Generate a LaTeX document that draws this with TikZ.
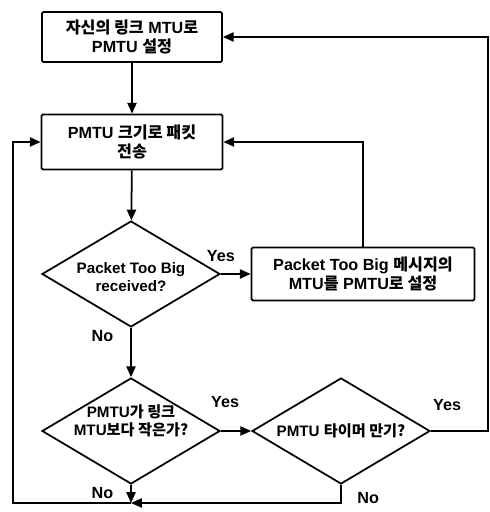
\documentclass[tikz,border=0pt]{standalone}
\usepackage{fontspec}
\setmainfont{Liberation Sans}
\newfontfamily\krfont{Noto Sans CJK KR}
\newcommand{\kor}[1]{{\krfont #1}}
\usepackage{tikz}
\usetikzlibrary{shapes.geometric,arrows.meta,positioning}

\begin{document}
\begin{tikzpicture}[
  line width=1.25pt,
  box/.style={draw,rounded corners=1pt,minimum width=4.5cm,align=center,
              font=\fontsize{11.5}{14}\selectfont\bfseries},
  dec/.style={draw,diamond,minimum width=4.45cm,minimum height=2.65cm,inner sep=0pt},
  dtxt/.style={align=center,font=\fontsize{10.8}{13}\selectfont\bfseries},
  lbl/.style={font=\fontsize{11.5}{13}\selectfont\bfseries,inner sep=1pt},
  arr/.style={-{Triangle[length=2.7mm,width=2.3mm]}},
]
\useasboundingbox (0,0) rectangle (12.225,12.8);
\node[box,minimum height=1.25cm] (own) at (3.3,11.875) {\kor{자신의 링크} MTU\kor{로}\\PMTU \kor{설정}};
\node[box,minimum width=4.525cm,minimum height=1.375cm] (send) at (3.3,9.25) {PMTU \kor{크기로 패킷}\\\kor{전송}};
\node[dec,label={[dtxt,yshift=-2pt]center:Packet Too Big\\received?}] (ptb) at (3.275,5.95) {};
\node[box,minimum width=5.575cm,minimum height=1.325cm] (setp) at (9.075,5.95) {Packet Too Big \kor{메시지의}\\MTU\kor{를} PMTU\kor{로 설정}};
\node[dec,label={[dtxt,yshift=7pt]center:PMTU\kor{가 링크}\\MTU\kor{보다 작은가?}}] (less) at (3.275,2.025) {};
\node[dec,label={[dtxt]center:PMTU \kor{타이머 만기?}}] (tmr) at (8.525,2.025) {};
\coordinate (bot) at (3.275,0.225);
\coordinate (lft) at (0.325,0);
\coordinate (rgt) at (12.2,0);
\draw[arr] (own) -- (send);
\draw[arr] (send) -- (ptb);
\draw[arr] (ptb.east) -- (setp.west) node[lbl,pos=0,above=7.5pt]{Yes};
\draw[arr] (setp.north) |- (send.east);
\draw[arr] (ptb) -- (less) node[lbl,pos=0,below left=0pt and 11pt]{No};
\draw[arr] (less) -- (tmr) node[lbl,pos=0,above=15pt,xshift=3pt]{Yes};
\draw[arr] (tmr.east) node[lbl,above right=13pt and 0pt]{Yes}
  -| (rgt |- own.east) -- (own.east);
\draw[arr] (less) -- (bot) node[lbl,pos=0,below left=0pt and 11pt]{No};
\draw[arr] (tmr) |- (bot) node[lbl,pos=0,below right=4pt and 10pt]{No};
\draw[arr] (bot) -| (lft |- send.west) -- (send.west);
\end{tikzpicture}
\end{document}
